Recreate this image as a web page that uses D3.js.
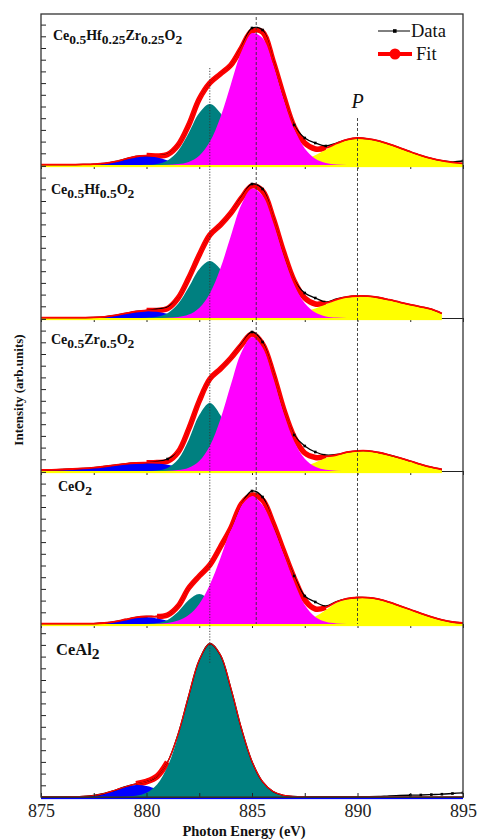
<!DOCTYPE html>
<html><head><meta charset="utf-8">
<script src="https://cdn.jsdelivr.net/npm/d3@7"></script>
<style>body{margin:0;background:#fff}svg{display:block}</style>
</head><body>
<svg id="chart" width="477" height="840"></svg>
<script>
// ---------- DATA ----------
const energy = [875,875.5,876,876.5,877,877.5,878,878.5,879,879.5,
  880,880.5,881,881.5,882,882.5,883,883.5,884,884.5,
  885,885.5,886,886.5,887,887.5,888,888.5,889,889.5,
  890,890.5,891,891.5,892,892.5,893,893.5,894,894.5,895];
const xTickValues = [875,877.5,880,882.5,885,887.5,890,892.5,895];
const xTickLabels = ["875","880","885","890","895"];
const sampleNames = [
  ["Ce",["0.5"],"Hf",["0.25"],"Zr",["0.25"],"O",["2"]],
  ["Ce",["0.5"],"Hf",["0.5"],"O",["2"]],
  ["Ce",["0.5"],"Zr",["0.5"],"O",["2"]],
  ["Ce","O",["2"]],
  ["Ce","Al",["2"]]
];
const seriesNames = ["Data","Fit"];

// Panel 1: Ce0.5Hf0.25Zr0.25O2
const fit1 = [0.3,0.3,0.3,0.4,0.6,0.9,1.6,3.3,6.0,8.5,
  9.4,9.0,10.5,20,40,66,82,91,100,117,
  134,133,104,69,38,22,16,17,21.5,25.4,
  27,26.2,24.1,20.9,17.2,13.3,9.7,6.7,4.4,2.7,1.6];
const data1 = [0.3,0.3,0.3,0.4,0.6,0.9,1.6,3.3,6.0,8.5,
  9.4,9.2,10.8,20,40,66,82,91,100,118,
  137,135,105,69,40,27,22,19,22,25.4,
  27,26.2,24.1,20.9,17.2,13.3,9.7,6.7,4.4,3.2,4.0];
const blue1 = [0,0,0,0,0.1,0.4,1.2,3.0,5.7,8.2,
  8.9,7.4,4.6,2.2,0.8,0.2,0,0,0,0,
  0,0,0,0,0,0,0,0,0,0,
  0,0,0,0,0,0,0,0,0,0,0];
const teal1 = [0,0,0,0,0,0,0,0,0,0,
  0.2,1.1,4.6,14.3,32,51.9,61,51.9,32,14.3,
  4.6,1.1,0.2,0,0,0,0,0,0,0,
  0,0,0,0,0,0,0,0,0,0,0];
const mag1 = [0,0,0,0,0,0,0,0,0,0,
  0,0,0.2,0.9,3.1,9.3,23.2,47.5,80.7,113.4,
  131.9,127.0,101.2,66.8,36.4,16.5,6.2,1.9,0.5,0.1,
  0,0,0,0,0,0,0,0,0,0,0];
const yel1 = [0,0,0,0,0,0,0,0,0,0,
  0,0,0,0,0,0,0,0,0,0,
  0,0.2,0.5,1.2,2.7,5.5,9.7,15.2,20.9,25.3,
  27,26.2,24.1,20.9,17.2,13.3,9.7,6.7,4.4,2.7,1.6];

// Panel 2: Ce0.5Hf0.5O2 (875 - 894)
const fit2 = [0.3,0.3,0.3,0.3,0.4,0.6,1.2,2.6,4.6,6.5,
  7.5,7.6,9.5,20,40,63,83,93,105,120,
  132,127,100,66,37,20,14,15,18.4,21.1,
  22,21.8,20.5,18.3,15.8,13.4,11.2,8.8,4.5];
const data2 = [0.3,0.3,0.3,0.3,0.4,0.6,1.2,2.6,4.6,6.5,
  7.6,9,11,20,40,63,83,93,105,121,
  134,129,101,66,38,25,20,16,19,21.1,
  22,21.8,20.5,18.3,15.8,13.4,11.2,8.8,4.5];
const blue2 = [0,0,0,0,0.1,0.3,0.9,2.3,4.2,6.2,
  7,6.2,4.2,2.3,0.9,0.3,0.1,0,0,0,
  0,0,0,0,0,0,0,0,0,0,
  0,0,0,0,0,0,0,0,0];
const teal2 = [0,0,0,0,0,0,0,0,0,0,
  0.2,1.2,4.8,14.2,30.7,48.8,57,48.8,30.7,14.2,
  4.8,1.2,0.2,0,0,0,0,0,0,0,
  0,0,0,0,0,0,0,0,0];
const mag2 = [0,0,0,0,0,0,0,0,0,0,
  0,0,0.2,1.0,3.4,10.1,24.5,49.4,82.3,113.5,
  129.5,122.4,95.7,62.0,33.2,14.7,5.4,1.6,0.4,0.1,
  0,0,0,0,0,0,0,0,0];
const yel2 = [0,0,0,0,0,0,0,0,0,0,
  0,0,0,0,0,0,0,0,0.3,0.5,
  0.8,1.2,1.8,2.7,4.0,6.5,9.5,13.5,18.0,21.0,
  22.0,21.8,20.5,18.3,15.8,13.4,11.2,8.8,4.5];

// Panel 3: Ce0.5Zr0.5O2 (875 - 894)
const fit3 = [1.0,1.2,1.5,2.0,2.6,3.4,4.5,5.8,7.2,8.0,
  8.3,8.5,9.8,19,42,70,92,102,113,126,
  137,127,98,62,34,18,13.5,14.5,16,18.8,
  20.2,20.2,18.5,16,13.2,10,6.7,3.8,1.5];
const data3 = [1.0,1.2,1.5,2.0,2.6,3.4,4.5,5.8,7.2,8.0,
  8.3,9.5,12,19,42,70,92,102,113,127,
  139,129,99,62,36,25,19,16,16.5,18.8,
  20.2,20.2,18.5,16,13.2,10,6.7,3.8,1.5];
const blue3 = [0.8,1.0,1.3,1.8,2.4,3.2,4.3,5.6,7.0,7.8,
  8.0,7.6,6.2,4.2,2.3,1.0,0.3,0,0,0,
  0,0,0,0,0,0,0,0,0,0,
  0,0,0,0,0,0,0,0,0];
const teal3 = [0,0,0,0,0,0,0,0,0,0,
  0,0.5,3.0,11.7,31.1,55.9,68,55.9,31.1,11.7,
  3.0,0.5,0,0,0,0,0,0,0,0,
  0,0,0,0,0,0,0,0,0];
const mag3 = [0,0,0,0,0,0,0,0,0,0,
  0,0,0.2,0.9,3.3,10.0,25.1,51.4,86.4,118.8,
  133.9,123.6,93.5,58.0,29.4,12.2,4.2,1.2,0.3,0,
  0,0,0,0,0,0,0,0,0];
const yel3 = [0,0,0,0,0,0,0,0,0,0,
  0,0,0,0,0,0,0,0,0,0,
  0.2,0.4,0.8,1.4,2.5,4.3,8.5,13.0,15.5,18.5,
  20.0,20.0,18.3,15.8,13.0,9.8,6.5,3.6,1.2];

// Panel 4: CeO2
const fit4 = [0.3,0.3,0.3,0.3,0.3,0.4,1.0,2.3,4.5,6.6,
  7.5,7.5,9,18,36,48,59,77,96,120,
  129,124,101,73,46,24,15,16.5,22,25.3,
  26.5,26.4,24.8,21.8,18.2,14.5,10.7,7.2,4.2,2.0,1.0];
const data4 = [0.3,0.3,0.3,0.3,0.3,0.4,1.0,2.3,4.5,6.6,
  7.5,7.5,9,18,36,48,59,77,96,120,
  133,127,101,73,48,28,22,18,22.5,25.3,
  26.5,26.4,24.8,21.8,18.2,14.5,10.7,7.2,4.2,2.0,1.0];
const blue4 = [0,0,0,0,0,0.2,0.8,2.1,4.2,6.3,
  7.0,5.6,3.3,1.4,0.5,0.1,0,0,0,0,
  0,0,0,0,0,0,0,0,0,0,
  0,0,0,0,0,0,0,0,0,0,0];
const teal4 = [0,0,0,0,0,0,0,0,0,0,
  0.1,0.9,4.1,12.3,24.0,30,24.0,12.3,4.1,0.9,
  0.1,0,0,0,0,0,0,0,0,0,
  0,0,0,0,0,0,0,0,0,0,0];
const mag4 = [0,0,0,0,0,0,0,0,0,0,
  0,0.3,1.1,3.4,8.9,20.1,39.2,65.8,95.2,118.9,
  128,118.9,97,70,42,19,7,2.2,0.6,0.1,
  0,0,0,0,0,0,0,0,0,0,0];
const yel4 = [0,0,0,0,0,0,0,0,0,0,
  0,0,0,0,0,0,0,0,0,0,
  0.2,0.4,0.8,1.4,2.4,4.5,7.5,14,21,25,
  26.2,26.1,24.5,21.5,18,14.3,10.5,7.0,4.0,1.8,0.8];

// Panel 5: CeAl2
const fit5 = [0.2,0.2,0.2,0.3,0.6,1.5,3.5,6.7,10.3,13.1,
  15.4,20.6,35.0,63.0,101.3,137.0,153.5,142.2,108.6,68.5,
  35.6,15.3,5.4,1.6,0.5,0.3,0.2,0.2,0.2,0.2,
  0.2,0.2,0.2,0.2,0.2,0.2,0.2,0.2,0.2,0.2,0.2];
const data5 = [0.2,0.2,0.2,0.3,0.6,1.5,3.5,6.7,10.3,13.1,
  15.4,20.6,35.0,63.0,101.3,137.0,153.5,142.2,108.6,68.5,
  35.6,15.3,5.4,1.6,0.5,0.3,0.3,0.3,0.3,0.3,
  0.3,0.3,0.5,1.2,1.5,1.8,2.0,2.4,2.8,3.5,4.2];
const blue5 = [0,0,0,0.1,0.4,1.3,3.3,6.5,10.0,11.9,
  11.1,8.0,4.5,2.0,0.7,0.2,0,0,0,0,
  0,0,0,0,0,0,0,0,0,0,
  0,0,0,0,0,0,0,0,0,0,0];
const teal5 = [0,0,0,0,0,0,0,0,0.3,1.2,
  4.3,12.6,30.5,61.0,100.6,136.8,153.5,142.2,108.6,68.5,
  35.6,15.3,5.4,1.6,0.4,0.1,0,0,0,0,
  0,0,0,0,0,0,0,0,0,0,0];

// reference lines: energy, [panel, value] start and end
const refEnergies = [883.0, 885.2, 890.0];
const refFrom = [[0, 97], [0, 148], [0, 47]];
const refTo = [[4, 134], [3, 0], [3, 0]];
const peakLabel = {text: "P", energy: 890.0, panel: 0, value: 57};

// ---------- LAYOUT / STYLE ----------
const panelHeights = [151, 153, 153, 153, 173];
const L = 41, R = 463, T = 14;
const colors = {yellow: "#ffff00", blue: "#0000ff", teal: "#008080", magenta: "#ff00ff", red: "#ff0000"};
const serif = "'Liberation Serif','Times New Roman',serif";
const labelX = [53, 51, 51, 58, 56];
const labelDy = [26, 29, 26, 20, 31];
const labelSize = [[14, 13.5], [14, 13.5], [14, 13.5], [14, 13.5], [16.5, 15.5]];
const bandWidth = [5.5, 5.5, 5.5, 5.5, 6];
const bandRange = [[880, 888.5], [880, 888.5], [880, 888.5], [880.5, 888.5], [879.5, 881]];
const thinWidth = [1.8, 1.8, 1.8, 1.8, 1.2];
const refDash = ["1.2,1.6", "3,2", "3,2"];

const panels = [
  {fit: fit1, data: data1, comps: [["yellow", yel1], ["blue", blue1], ["teal", teal1], ["magenta", mag1]]},
  {fit: fit2, data: data2, comps: [["yellow", yel2], ["blue", blue2], ["teal", teal2], ["magenta", mag2]]},
  {fit: fit3, data: data3, comps: [["yellow", yel3], ["blue", blue3], ["teal", teal3], ["magenta", mag3]]},
  {fit: fit4, data: data4, comps: [["yellow", yel4], ["blue", blue4], ["teal", teal4], ["magenta", mag4]]},
  {fit: fit5, data: data5, comps: [["blue", blue5], ["teal", teal5]]}
];

const svg = d3.select("#chart");
const x = d3.scaleLinear().domain([875, 895]).range([L, R]);
let cum = T;
const geom = panelHeights.map(h => { const g = {top: cum, bottom: cum + h, h}; cum += h; return g; });
const yScales = geom.map(g => d3.scaleLinear().domain([0, g.h]).range([g.bottom, g.top]));
const curve = d3.curveCatmullRom.alpha(0.5);
const defs = svg.append("defs");

panels.forEach((p, i) => {
  const g = geom[i], y = yScales[i];
  const pts = arr => arr.map((v, k) => [energy[k], v]);

  // axes first (beneath curves)
  const yTicks = d3.range(0, g.h + 0.01, 11.7);
  svg.append("g").attr("transform", `translate(${L},0)`)
    .call(d3.axisLeft(y).tickValues(yTicks).tickSize(-5).tickSizeOuter(0).tickFormat(""))
    .call(s => s.selectAll("line").attr("stroke", "#222").attr("stroke-width", 1))
    .call(s => s.select(".domain").remove());
  if (i < 4) {
    svg.append("g").attr("transform", `translate(0,${g.bottom})`)
      .call(d3.axisBottom(x).tickValues(xTickValues).tickSize(4).tickSizeOuter(0).tickFormat(""))
      .call(s => s.selectAll("line").attr("stroke", "#222"))
      .call(s => s.select(".domain").attr("stroke", "#222").attr("stroke-width", 1));
  }

  defs.append("clipPath").attr("id", "clip" + i).append("rect")
    .attr("x", L).attr("y", g.top).attr("width", R - L).attr("height", g.h + 2.5);
  const cg = svg.append("g").attr("clip-path", `url(#clip${i})`);

  const line = d3.line().x(d => x(d[0])).y(d => y(d[1])).curve(curve);
  const fitPts = pts(p.fit);
  const [b0, b1] = bandRange[i];

  // thick fit band (dense circle markers) over the marker range
  cg.append("path").attr("d", line(fitPts.filter(d => d[0] >= b0 && d[0] <= b1))).attr("fill", "none")
    .attr("stroke", colors.red).attr("stroke-width", bandWidth[i])
    .attr("stroke-linejoin", "round").attr("stroke-linecap", "butt");

  // components
  p.comps.forEach(([c, arr], j) => {
    const area = d3.area().x(d => x(d[0])).y0(j === 0 ? y(0) + 2.2 : y(0)).y1(d => y(d[1])).curve(curve);
    cg.append("path").attr("d", area(pts(arr))).attr("fill", colors[c]);
  });

  // data
  const dataPts = pts(p.data);
  cg.append("path").attr("d", line(dataPts)).attr("fill", "none")
    .attr("stroke", "#000").attr("stroke-width", 1.3);
  // thin fit line
  cg.append("path").attr("d", line(fitPts)).attr("fill", "none")
    .attr("stroke", colors.red).attr("stroke-width", thinWidth[i]);
  // data markers visible where data departs from the fit
  cg.selectAll("rect.dm").data(dataPts.filter((d, k) => Math.abs(d[1] - p.fit[k]) > 1.5))
    .join("rect").attr("class", "dm")
    .attr("x", d => x(d[0]) - 1.3).attr("y", d => y(d[1]) - 1.3)
    .attr("width", 2.6).attr("height", 2.6).attr("fill", "#000");

  // label
  const [ms, ss] = labelSize[i];
  const t = svg.append("text").attr("x", labelX[i]).attr("y", g.top + labelDy[i])
    .attr("font-family", serif).attr("font-weight", "bold").attr("fill", "#111");
  let sub = false;
  sampleNames[i].forEach(seg => {
    if (Array.isArray(seg)) {
      t.append("tspan").attr("font-size", ss).attr("dy", sub ? 0 : 4).text(seg[0]);
      sub = true;
    } else {
      t.append("tspan").attr("font-size", ms).attr("dy", sub ? -4 : 0).text(seg);
      sub = false;
    }
  });
});

// bottom main axis
const gb = geom[4];
svg.append("g").attr("transform", `translate(0,${gb.bottom})`)
  .call(d3.axisBottom(x).tickValues(xTickValues).tickSize(-4).tickSizeOuter(0).tickPadding(7)
    .tickFormat(d => xTickLabels.includes(String(d)) ? String(d) : ""))
  .call(s => s.selectAll("line").attr("stroke", "#222"))
  .call(s => s.select(".domain").attr("stroke", "#222"))
  .call(s => s.selectAll("text").attr("font-family", serif).attr("font-size", 18).attr("fill", "#222"));

// reference lines
refEnergies.forEach((e, k) => {
  const [pa, va] = refFrom[k], [pb, vb] = refTo[k];
  svg.append("line").attr("x1", x(e)).attr("x2", x(e))
    .attr("y1", yScales[pa](va)).attr("y2", yScales[pb](vb))
    .attr("stroke", "#333").attr("stroke-width", 0.9).attr("stroke-dasharray", refDash[k]);
});

// P label
svg.append("text").attr("x", x(peakLabel.energy)).attr("y", yScales[peakLabel.panel](peakLabel.value))
  .attr("text-anchor", "middle").attr("font-family", serif).attr("font-style", "italic")
  .attr("font-size", 20).attr("fill", "#111").text(peakLabel.text);

// legend
const lg = svg.append("g");
lg.append("line").attr("x1", 378).attr("x2", 410).attr("y1", 31).attr("y2", 31).attr("stroke", "#000").attr("stroke-width", 1);
lg.append("rect").attr("x", 393).attr("y", 29.2).attr("width", 3.6).attr("height", 3.6).attr("fill", "#000");
lg.append("text").attr("x", 411).attr("y", 37).attr("font-family", serif).attr("font-size", 18.5).attr("fill", "#111").text(seriesNames[0]);
lg.append("line").attr("x1", 378).attr("x2", 412).attr("y1", 54).attr("y2", 54).attr("stroke", colors.red).attr("stroke-width", 4);
lg.append("circle").attr("cx", 395).attr("cy", 54).attr("r", 5.5).attr("fill", colors.red);
lg.append("text").attr("x", 416).attr("y", 59.5).attr("font-family", serif).attr("font-size", 18.5).attr("fill", "#111").text(seriesNames[1]);

// frame
svg.append("rect").attr("x", L).attr("y", T).attr("width", R - L).attr("height", gb.bottom - T)
  .attr("fill", "none").attr("stroke", "#333").attr("stroke-width", 1.3);

// titles
svg.append("text").attr("transform", "translate(23,390) rotate(-90)").attr("text-anchor", "middle")
  .attr("font-family", serif).attr("font-weight", "bold").attr("font-size", 13).attr("fill", "#111")
  .text("Intensity (arb.units)");
svg.append("text").attr("x", 244).attr("y", 836).attr("text-anchor", "middle")
  .attr("font-family", serif).attr("font-weight", "bold").attr("font-size", 14.5).attr("fill", "#111")
  .text("Photon Energy (eV)");
</script>
</body></html>
